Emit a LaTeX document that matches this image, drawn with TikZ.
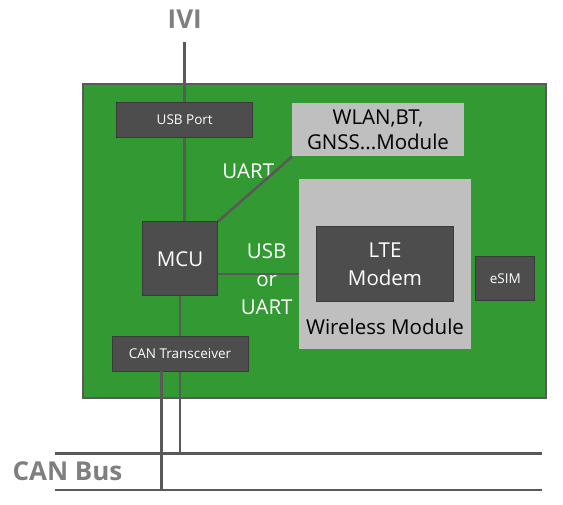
\documentclass[tikz,border=0pt]{standalone}
\usepackage{fontspec}
\setmainfont{Open Sans}
\definecolor{boardgreen}{HTML}{339933}
\definecolor{chipgray}{HTML}{4D4D4D}
\definecolor{chipedge}{HTML}{3A3A3A}
\definecolor{modgray}{HTML}{BFBFBF}
\definecolor{wiregray}{HTML}{595959}
\definecolor{labelgray}{HTML}{7F7F7F}

\begin{document}
\begin{tikzpicture}[
				x=1pt, y=-1pt,
				every node/.style={inner sep=0pt, align=center},
				chip/.style={draw=chipedge, line width=1pt, fill=chipgray, text=white, rectangle},
				module/.style={fill=modgray, rectangle, text=black},
				wire/.style={draw=wiregray, line width=2.6pt},
				biglabel/.style={text=labelgray, font=\fontsize{26}{28}\selectfont\bfseries},
				whitelabel/.style={text=white, font=\fontsize{20.5}{28}\selectfont}
				]
				
				\useasboundingbox (0,0) rectangle (563,505);
				
				\node[draw=wiregray, line width=1.6pt, fill=boardgreen, minimum width=463pt, minimum height=314pt] (board) at (314.5,241) {};
				
				\node[biglabel] (ivi) at (184.7,19) {IVI};
				\node[biglabel] (canbus) at (67.5,471) {CAN Bus};
				
				\node[chip, minimum width=136pt, minimum height=35pt, font=\fontsize{13.5}{18}\selectfont] (usb) at (184.7,120) {USB Port};
				\node[module, minimum width=172pt, minimum height=53pt, font=\fontsize{20.5}{25}\selectfont] (wlan) at (378,130) {WLAN,BT,\\GNSS...Module};
				\node[module, minimum width=172pt, minimum height=170pt] (wireless) at (385,264) {};
				\node[chip, minimum width=137pt, minimum height=75pt, font=\fontsize{20.5}{28}\selectfont] (lte) at (385,264.3) {LTE\\Modem};
				\node[font=\fontsize{20.5}{25}\selectfont] (wmlabel) at (385,326.7) {Wireless Module};
				\node[chip, minimum width=59pt, minimum height=44pt, font=\fontsize{13.5}{18}\selectfont] (esim) at (505.3,278.7) {eSIM};
				\node[chip, minimum width=75pt, minimum height=74pt, font=\fontsize{20.5}{25}\selectfont] (mcu) at (180,259) {MCU};
				\node[chip, minimum width=136pt, minimum height=35pt, font=\fontsize{13.5}{18}\selectfont] (can) at (180,354) {CAN Transceiver};
				
				\node[whitelabel] (uart) at (248.3,171.5) {UART};
				\node[whitelabel] (usbuart) at (266.7,279) {USB\\or\\UART};
				
				\coordinate (busA) at (55,453.3);
				\coordinate (busAend) at (542,453.3);
				\coordinate (busB) at (55,490);
				\coordinate (busBend) at (542,490);
				\coordinate (canH) at (161.7,371.5);
				
				\draw[wire] ([yshift=-14pt]ivi.south) -- (usb.north);
				\draw[wire] (usb.south) -- (usb.south |- mcu.north);
				\draw[wire] (mcu.north east) -- (wlan.south west);
				\draw[wire] (mcu.east |- 0,274) -- (wireless.west |- 0,274);
				\draw[wire] (mcu.south) -- (can.north);
				\draw[wire] (can.south) -- (can.south |- busA);
				\draw[wire] (canH) -- (canH |- busB);
				\draw[wire] (busA) -- (busAend);
				\draw[wire] (busB) -- (busBend);
				
			\end{tikzpicture}
\end{document}
